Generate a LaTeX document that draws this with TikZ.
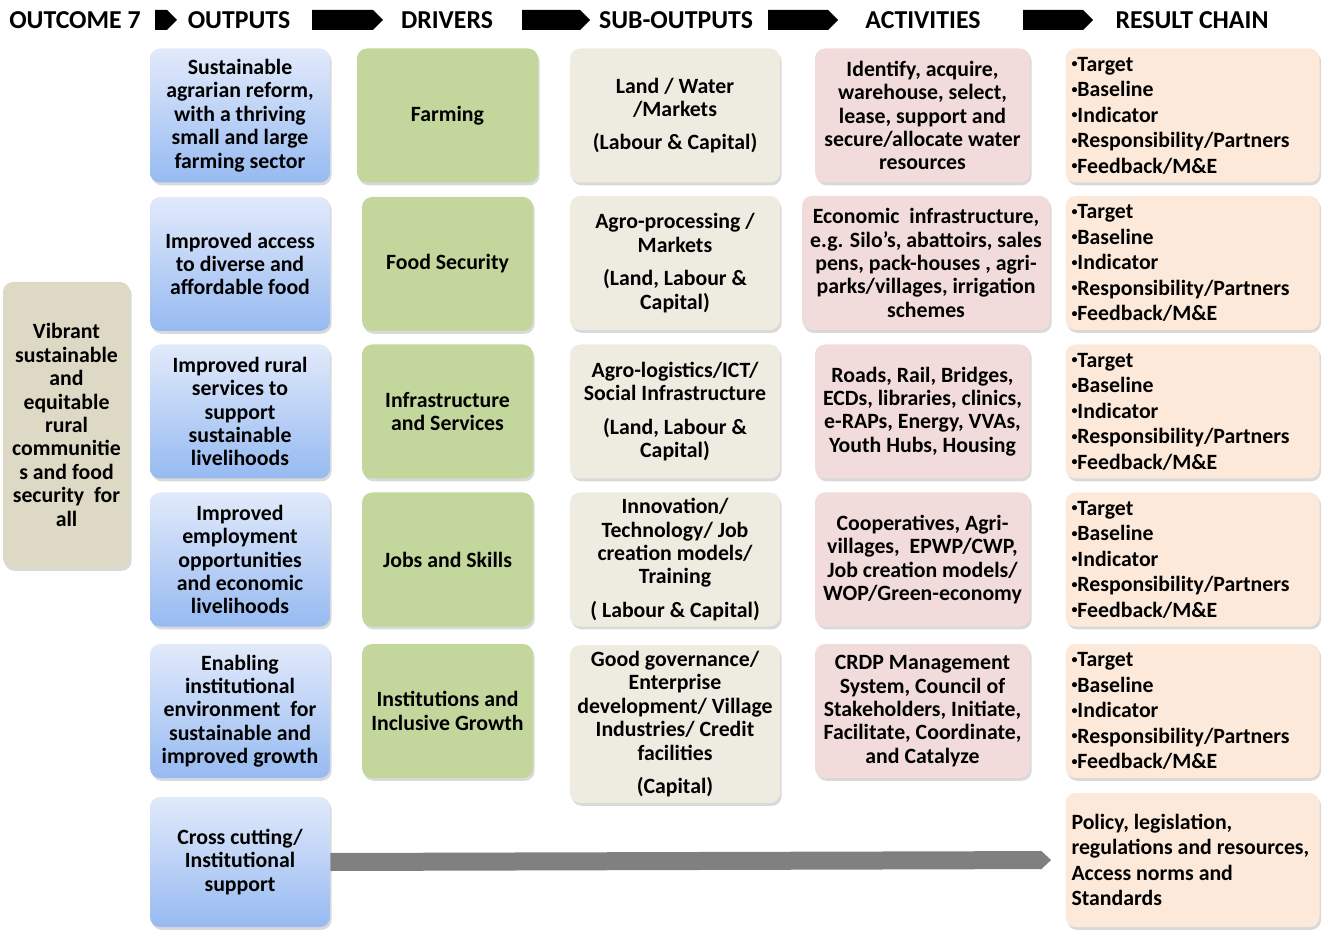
\documentclass[tikz,border=0pt]{standalone}
\usepackage{fontspec}
\setmainfont{Carlito}
\usetikzlibrary{shapes.symbols,shadows,arrows.meta}

\definecolor{outcomefill}{RGB}{221,217,196}
\definecolor{outtop}{RGB}{226,234,251}
\definecolor{outbot}{RGB}{150,186,241}
\definecolor{drvfill}{RGB}{195,214,155}
\definecolor{subfill}{RGB}{238,236,225}
\definecolor{actfill}{RGB}{242,220,219}
\definecolor{resfill}{RGB}{253,233,217}
\definecolor{bargray}{RGB}{128,128,128}

\newcommand{\smallbul}{\raisebox{0.3ex}{\fontsize{6}{6}\selectfont\textbullet}}
\newcommand{\resultlist}{\smallbul Target\\\smallbul Baseline\\\smallbul Indicator\\\smallbul Responsibility/Partners\\\smallbul Feedback/M\&E}

\tikzset{
	box/.style={rounded corners=5pt, align=flush center, inner sep=2pt,
		font=\bfseries\fontsize{10.9}{11.7}\selectfont,
		drop shadow={opacity=0.3, shadow xshift=0.8pt, shadow yshift=-1.4pt}},
	outcomebox/.style={box, fill=outcomefill, minimum width=63.5pt, minimum height=143pt},
	outbox/.style={box, top color=outtop, bottom color=outbot, minimum width=90pt, minimum height=67pt},
	drvbox/.style={box, fill=drvfill, minimum width=85.5pt, minimum height=67pt},
	subbox/.style={box, fill=subfill, minimum width=105pt, minimum height=67pt},
	actbox/.style={box, fill=actfill, minimum width=107.5pt, minimum height=67pt},
	resbox/.style={box, fill=resfill, align=flush left, text width=121pt, inner xsep=3pt,
		font=\bfseries\fontsize{10.9}{12.75}\selectfont, minimum height=67pt},
	header/.style={font=\bfseries\fontsize{12.9}{14}\selectfont, inner sep=1pt},
	hdrarrow/.style={signal, signal to=east, fill=black, inner sep=0pt, minimum height=10pt},
}

\begin{document}
\begin{tikzpicture}[x=0.5pt, y=-0.5pt]
	\useasboundingbox (0,0) rectangle (1323,930);

	% headers
	\node[header] (hOutcome) at (75,20) {OUTCOME 7};
	\node[header] (hOutputs) at (239,20) {OUTPUTS};
	\node[header] (hDrivers) at (447,20) {DRIVERS};
	\node[header] (hSub) at (676,20) {SUB-OUTPUTS};
	\node[header] (hAct) at (923,20) {ACTIVITIES};
	\node[header] (hResult) at (1192,20) {RESULT CHAIN};
	\node[hdrarrow, minimum width=11pt] (a1) at (161,20) {};
	\node[hdrarrow, minimum width=35.5pt] (a2) at (342.5,20) {};
	\node[hdrarrow, minimum width=34pt] (a3) at (551,20) {};
	\node[hdrarrow, minimum width=35pt] (a4) at (798,20) {};
	\node[hdrarrow, minimum width=35pt] (a5) at (1053,20) {};

	% outcome
	\node[outcomebox] (outcome) at (66.5,425) {Vibrant\\sustainable\\and\\equitable\\rural\\communitie\\s and food\\security~ for\\all};

	% outputs
	\node[outbox] (out1) at (240,115.5) {Sustainable\\agrarian reform,\\with a thriving\\small and large\\farming sector};
	\node[outbox] (out2) at (240,264) {Improved access\\to diverse and\\affordable food};
	\node[outbox] (out3) at (240,411.5) {Improved rural\\services to\\support\\sustainable\\livelihoods};
	\node[outbox] (out4) at (240,559.5) {Improved\\employment\\opportunities\\and economic\\livelihoods};
	\node[outbox] (out5) at (240,711) {Enabling\\institutional\\environment~ for\\sustainable and\\improved growth};
	\node[outbox, minimum height=65pt] (out6) at (240,862) {Cross cutting/\\Institutional\\support};

	% drivers
	\node[drvbox, minimum width=90.5pt] (drv1) at (447.5,115.5) {Farming};
	\node[drvbox] (drv2) at (447.5,264) {Food Security};
	\node[drvbox] (drv3) at (447.5,411.5) {Infrastructure\\and Services};
	\node[drvbox] (drv4) at (447.5,559.5) {Jobs and Skills};
	\node[drvbox] (drv5) at (447.5,711) {Institutions and\\Inclusive Growth};

	% sub-outputs
	\node[subbox] (sub1) at (675,115.5) {Land / Water\\/Markets\\[5pt](Labour \& Capital)};
	\node[subbox] (sub2) at (675,263) {Agro-processing /\\Markets\\[5pt](Land, Labour \&\\Capital)};
	\node[subbox] (sub3) at (675,411.5) {Agro-logistics/ICT/\\Social Infrastructure\\[5pt](Land, Labour \&\\Capital)};
	\node[subbox] (sub4) at (675,559.5) {Innovation/\\Technology/ Job\\creation models/\\Training\\[5pt]( Labour \& Capital)};
	\node[subbox, minimum height=79pt] (sub5) at (675,724) {Good governance/\\Enterprise\\development/ Village\\Industries/ Credit\\facilities\\[5pt](Capital)};

	% activities
	\node[actbox] (act1) at (922.5,115.5) {Identify, acquire,\\warehouse, select,\\lease, support and\\secure/allocate water\\resources};
	\node[actbox, minimum width=124pt] (act2) at (926,263) {Economic~ infrastructure,\\e.g. Silo’s, abattoirs, sales\\pens, pack-houses , agri-\\parks/villages, irrigation\\schemes};
	\node[actbox] (act3) at (922.5,411.5) {Roads, Rail, Bridges,\\ECDs, libraries, clinics,\\e-RAPs, Energy, VVAs,\\Youth Hubs, Housing};
	\node[actbox] (act4) at (922.5,559.5) {Cooperatives, Agri-\\villages,~ EPWP/CWP,\\Job creation models/\\WOP/Green-economy};
	\node[actbox] (act5) at (922.5,711) {CRDP Management\\System, Council of\\Stakeholders, Initiate,\\Facilitate, Coordinate,\\and Catalyze};

	% result chain
	\node[resbox] (res1) at (1192.5,115.5) {\resultlist};
	\node[resbox] (res2) at (1192.5,263) {\resultlist};
	\node[resbox] (res3) at (1192.5,411.5) {\resultlist};
	\node[resbox] (res4) at (1192.5,559.5) {\resultlist};
	\node[resbox] (res5) at (1192.5,711) {\resultlist};
	\node[resbox] (res6) at (1192.5,860) {Policy, legislation,\\regulations and resources,\\Access norms and\\Standards};

	% cross cutting bar
	\draw[bargray, line width=9pt, shorten >=7pt, -{Triangle[width=9pt, length=5pt]}] (out6.east) -- (res6.west);
\end{tikzpicture}
\end{document}
